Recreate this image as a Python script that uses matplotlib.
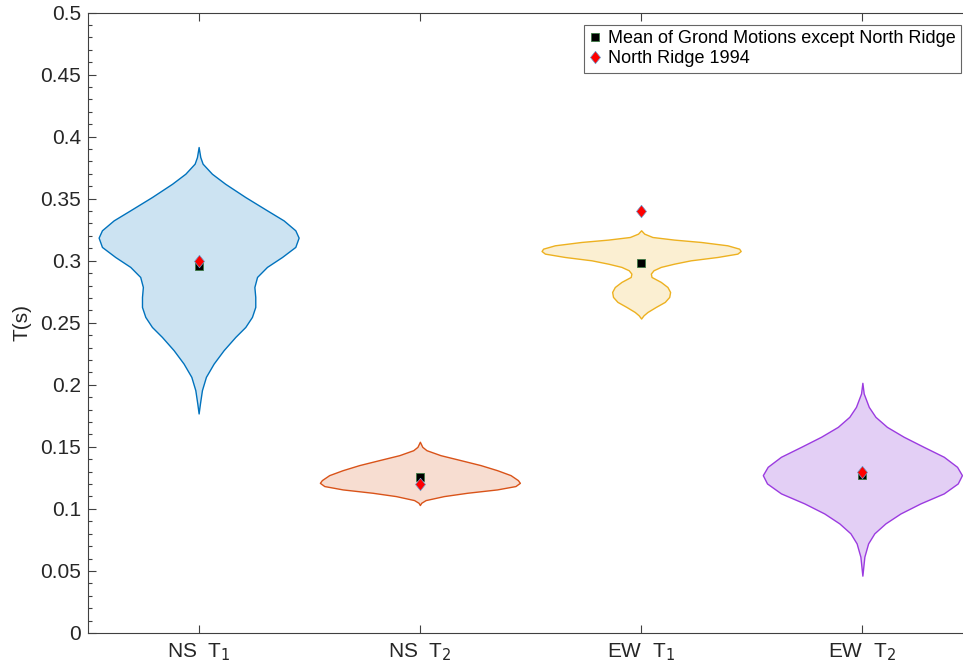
import numpy as np
import matplotlib.pyplot as plt

plt.rcParams['font.family'] = ['Liberation Sans', 'DejaVu Sans']

# 周期の分布 (バイオリンの輪郭: T の値と半幅)
labels = ["NS  T$_1$", "NS  T$_2$", "EW  T$_1$", "EW  T$_2$"]

ns1_t = [0.3916, 0.3835, 0.3782, 0.3701, 0.3620, 0.3513, 0.3406, 0.3325, 0.3245,
         0.3186, 0.3111, 0.3030, 0.2950, 0.2869, 0.2788, 0.2708, 0.2627, 0.2547,
         0.2466, 0.2386, 0.2279, 0.2171, 0.2064, 0.1957, 0.1849, 0.1769]
ns1_w = [0.0, 0.0075, 0.018, 0.060, 0.120, 0.211, 0.309, 0.384, 0.437,
         0.452, 0.437, 0.377, 0.309, 0.264, 0.252, 0.256, 0.256, 0.241,
         0.211, 0.166, 0.113, 0.068, 0.033, 0.015, 0.006, 0.0]

ns2_t = [0.1541, 0.1500, 0.1473, 0.1433, 0.1393, 0.1353, 0.1312, 0.1272, 0.1232,
         0.1210, 0.1184, 0.1157, 0.1130, 0.1103, 0.1071, 0.1049, 0.1031]
ns2_w = [0.0, 0.011, 0.030, 0.093, 0.184, 0.274, 0.349, 0.410, 0.443,
         0.452, 0.432, 0.349, 0.214, 0.108, 0.026, 0.006, 0.0]

ew1_t = [0.3245, 0.3218, 0.3191, 0.3170, 0.3151, 0.3124, 0.3097, 0.3078, 0.3057,
         0.3030, 0.3003, 0.2976, 0.2950, 0.2923, 0.2896, 0.2869, 0.2829, 0.2788,
         0.2748, 0.2708, 0.2668, 0.2627, 0.2587, 0.2560, 0.2534]
ew1_w = [0.0, 0.014, 0.051, 0.149, 0.270, 0.390, 0.443, 0.450, 0.435,
         0.345, 0.224, 0.149, 0.089, 0.056, 0.044, 0.047, 0.089, 0.119,
         0.131, 0.127, 0.107, 0.066, 0.029, 0.011, 0.0]

ew2_t = [0.2016, 0.1930, 0.1822, 0.1742, 0.1661, 0.1581, 0.1500, 0.1420, 0.1339,
         0.1272, 0.1205, 0.1125, 0.1044, 0.0963, 0.0883, 0.0803, 0.0722, 0.0615,
         0.0462]
ew2_w = [0.0, 0.006, 0.029, 0.059, 0.111, 0.187, 0.277, 0.368, 0.428,
         0.450, 0.431, 0.368, 0.262, 0.172, 0.104, 0.054, 0.026, 0.009, 0.0]

# 平均値 (Northridge を除く) と Northridge 1994
mean_vals = [0.2960, 0.1255, 0.2985, 0.1275]
northridge = [0.3000, 0.1200, 0.3400, 0.1300]

yticks = [0, 0.05, 0.1, 0.15, 0.2, 0.25, 0.3, 0.35, 0.4, 0.45, 0.5]
yticklabels = ['0', '0.05', '0.1', '0.15', '0.2', '0.25', '0.3',
               '0.35', '0.4', '0.45', '0.5']

edge_colors = ['#0072BD', '#D95319', '#EDB120', '#9B3BE0']
face_colors = ['#CCE3F2', '#F7DDD1', '#FBEFD2', '#E3CFF5']

fig = plt.figure(figsize=(9.63, 6.63), dpi=100)
ax = fig.add_axes([88 / 963, 30 / 663, 885 / 963, 620.5 / 663])

profiles = [(ns1_t, ns1_w), (ns2_t, ns2_w), (ew1_t, ew1_w), (ew2_t, ew2_w)]
for i, (t, w) in enumerate(profiles):
    xc = i + 1
    t = np.array(t)
    w = np.array(w)
    ax.fill_betweenx(t, xc - w, xc + w, facecolor=face_colors[i],
                     edgecolor=edge_colors[i], linewidth=1.0, zorder=2)

pos = np.arange(1, 5)
diamond = [(0, 1), (0.8, 0), (0, -1), (-0.8, 0), (0, 1)]
ax.plot(pos, mean_vals, linestyle='none', marker='s', markersize=5.5,
        markerfacecolor='black', markeredgecolor='#3d7a45', markeredgewidth=0.6,
        label='Mean of Grond Motions except North Ridge', zorder=3)
ax.plot(pos, northridge, linestyle='none', marker=diamond, markersize=9,
        markerfacecolor='red', markeredgecolor='#6a9fd0', markeredgewidth=0.5,
        label='North Ridge 1994', zorder=4)

ax.set_xlim(0.5, 4.5)
ax.set_ylim(0, 0.5)
ax.set_xticks(pos)
ax.set_xticklabels(labels)
ax.set_yticks(yticks)
ax.set_yticklabels(yticklabels)
ax.set_yticks(np.arange(0, 0.501, 0.01), minor=True)
ax.tick_params(axis='both', which='both', direction='in', colors='#404040',
               labelcolor='#262626', labelsize=15)
ax.tick_params(axis='y', which='major', length=6, width=0.8, pad=5)
ax.tick_params(axis='y', which='minor', length=3, width=0.8)
ax.tick_params(axis='x', which='major', length=6, width=0.8, top=True, pad=6)
ax.tick_params(axis='x', which='minor', bottom=False, top=False)
for sp in ax.spines.values():
    sp.set_color('#404040')
    sp.set_linewidth(0.8)

ax.set_ylabel('T(s)', fontsize=15, color='#262626', labelpad=6)

leg = ax.legend(loc='upper right', bbox_to_anchor=(961 / 963, 638 / 663),
                bbox_transform=fig.transFigure, borderaxespad=0,
                fontsize=13, fancybox=False, frameon=True, handlelength=0.6,
                handletextpad=0.4, borderpad=0.3, labelspacing=0.15)
leg.get_frame().set_edgecolor('#404040')
leg.get_frame().set_linewidth(0.8)

plt.savefig('out.png', dpi=100)
